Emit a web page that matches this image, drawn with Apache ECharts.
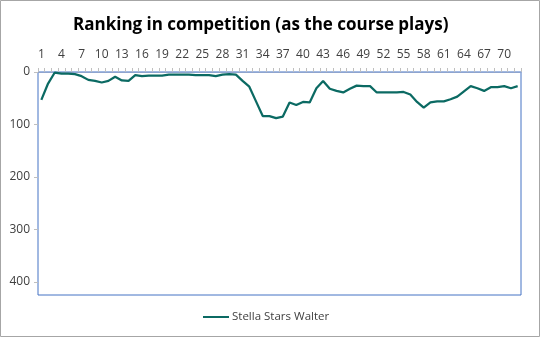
<!DOCTYPE html>
<html>
<head>
<meta charset="utf-8">
<script src="https://cdn.jsdelivr.net/npm/echarts@6/dist/echarts.min.js"></script>
<style>
  html, body { margin: 0; padding: 0; background: #fff; }
  #chart { width: 540px; height: 337px; }
</style>
</head>
<body>
<div id="chart"></div>
<script>
// Hole-by-hole ranking in the competition
const holes = [];
for (let i = 1; i <= 72; i++) holes.push(String(i));

const seriesName = 'Stella Stars Walter';
const ranking = [
  53, 22, 1, 3, 3, 4, 8, 15, 17, 20,
  17, 9, 16, 17, 6, 8, 7, 7, 7, 5,
  5, 5, 5, 6, 6, 6, 8, 5, 4, 5,
  17, 28, 56, 84, 84, 88, 85, 58, 63, 57,
  58, 31, 17, 32, 36, 39, 32, 26, 27, 27,
  39, 39, 39, 39, 38, 43, 57, 68, 58, 56,
  56, 52, 47, 37, 27, 31, 36, 29, 29, 27,
  31, 27
];

const yTicks = { min: 0, max: 425, step: 100 };

const chart = echarts.init(document.getElementById('chart'), null, { renderer: 'canvas' });
const font = '"Open Sans", "Noto Sans", sans-serif';

chart.setOption({
  animation: false,
  backgroundColor: '#ffffff',
  textStyle: { fontFamily: font },
  title: {
    text: 'Ranking in competition (as the course plays)',
    left: 68,
    top: 12,
    textStyle: { fontFamily: font, fontSize: 17, fontWeight: 'bold', color: '#000' }
  },
  graphic: [{
    type: 'rect',
    shape: { x: 0.5, y: 0.5, width: 539, height: 336 },
    style: { fill: 'none', stroke: '#a6a6a6', lineWidth: 1 },
    silent: true
  }],
  grid: {
    left: 38, right: 19, top: 72, bottom: 42,
    show: true, borderColor: '#4472c4', borderWidth: 1
  },
  legend: {
    bottom: 9,
    left: 198,
    data: [seriesName],
    itemWidth: 26,
    itemHeight: 2,
    icon: 'rect',
    itemGap: 4,
    textStyle: { fontFamily: font, fontSize: 11.5, color: '#404040', padding: [0, 0, 0, -2] }
  },
  xAxis: {
    type: 'category',
    position: 'top',
    data: holes,
    boundaryGap: true,
    axisLine: { show: true, lineStyle: { color: '#8ea4cf', width: 1 } },
    axisTick: { show: true, interval: 0, inside: false, length: 4, lineStyle: { color: '#bfbfbf' } },
    axisLabel: { interval: 2, fontSize: 12, color: '#404040', margin: 11, fontFamily: font },
    splitLine: { show: false }
  },
  yAxis: {
    type: 'value',
    inverse: true,
    min: yTicks.min,
    max: yTicks.max,
    interval: yTicks.step,
    axisLine: { show: false },
    axisTick: { show: true, length: 4, lineStyle: { color: '#bfbfbf' } },
    axisLabel: { fontSize: 12, color: '#404040', margin: 8, showMaxLabel: false, fontFamily: font },
    splitLine: { show: false }
  },
  series: [{
    name: seriesName,
    type: 'line',
    data: ranking,
    symbol: 'none',
    lineStyle: { color: '#0b6a63', width: 2.25 },
    itemStyle: { color: '#0b6a63' }
  }]
});
</script>
</body>
</html>
